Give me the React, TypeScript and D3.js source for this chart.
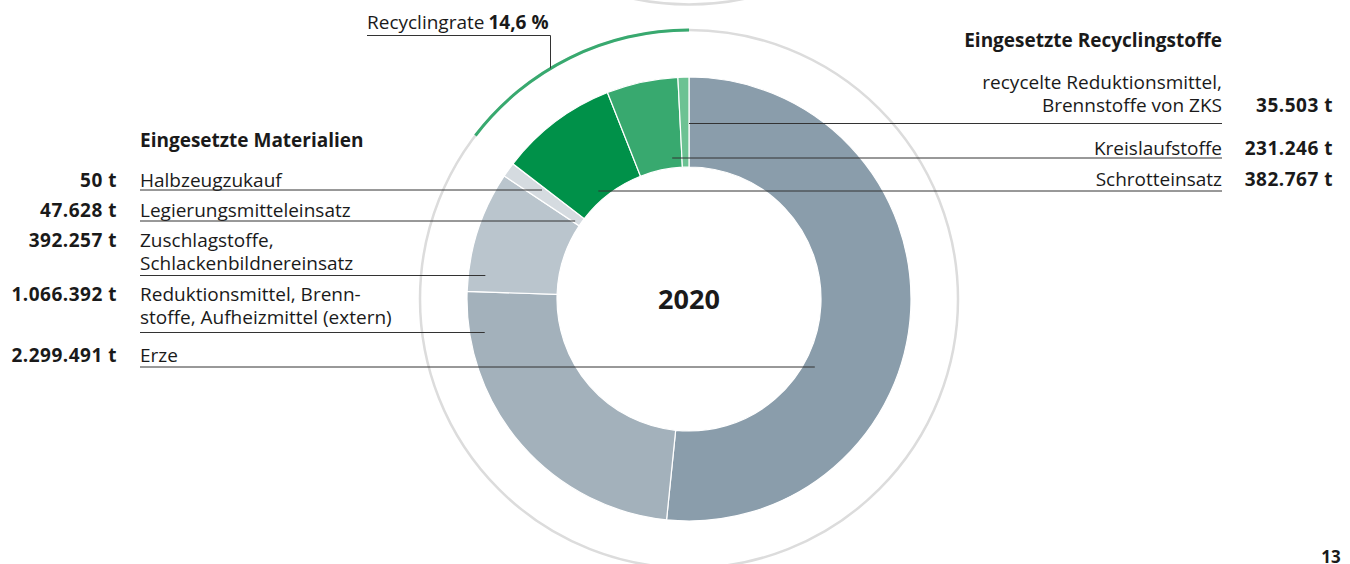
import React, { useEffect, useRef } from 'react';
import * as d3 from 'd3';

// slice order clockwise from 12 o'clock
const sliceNames = [
  'Erze',
  'Reduktionsmittel',
  'Zuschlagstoffe',
  'Legierungsmitteleinsatz',
  'Halbzeugzukauf',
  'Schrotteinsatz',
  'Kreislaufstoffe',
  'recycelte Reduktionsmittel',
];
const sliceValues = [2299491, 1066392, 392257, 47628, 50, 382767, 231246, 35503];
const sliceColors = ['#8a9dab', '#a3b1bb', '#bac5cd', '#d5dbe0', '#d5dbe0', '#009149', '#38a96f', '#6cc293'];

const leftValues = ['50 t', '47.628 t', '392.257 t', '1.066.392 t', '2.299.491 t'];
const leftLabels = [
  ['Halbzeugzukauf'],
  ['Legierungsmitteleinsatz'],
  ['Zuschlagstoffe,', 'Schlackenbildnereinsatz'],
  ['Reduktionsmittel, Brenn-', 'stoffe, Aufheizmittel (extern)'],
  ['Erze'],
];
const rightValues = ['35.503 t', '231.246 t', '382.767 t'];
const rightLabels = [
  ['recycelte Reduktionsmittel,', 'Brennstoffe von ZKS'],
  ['Kreislaufstoffe'],
  ['Schrotteinsatz'],
];
const recyclingRate = 14.6;
const yearLabel = '2020';

const W = 1350;
const H = 564;
const cx = 689;
const cy = 299;
const rOuter = 222;
const rInner = 132;
const rRing = 269;
const FONT = '"Open Sans", sans-serif';
const INK = '#1a1a1a';
const LH = 22.5;

// layout for the label rows: baseline of first line, underline y, leader end radius, side
const leftRows = [
  { y: 187, line: 190, r: 183, side: -1 },
  { y: 217, line: 221, r: 138, side: -1 },
  { y: 247, line: 275.5, r: 205, side: -1 },
  { y: 301, line: 332.5, r: 207, side: -1 },
  { y: 362, line: 367, r: 143, side: 1 },
];
const rightRows = [
  { y: 89, line: 123.5, r: 175, side: -1 },
  { y: 155, line: 158, r: 142, side: -1 },
  { y: 186, line: 191, r: 141, side: -1 },
];

const App = () => {
  const svgRef = useRef<SVGSVGElement>(null);

  useEffect(() => {
    const svg = d3.select(svgRef.current);
    svg.selectAll('*').remove();

    // faint ring of the previous chart above
    svg.append('circle')
      .attr('cx', cx).attr('cy', 4.5 - rRing).attr('r', rRing)
      .attr('fill', 'none').attr('stroke', '#dcdcdc').attr('stroke-width', 2.5);

    // outer ring
    svg.append('circle')
      .attr('cx', cx).attr('cy', cy).attr('r', rRing)
      .attr('fill', 'none').attr('stroke', '#dcdcdc').attr('stroke-width', 2.5);

    // recycling rate arc, counter-clockwise from top
    const rateScale = d3.scaleLinear().domain([0, 100]).range([0, 2 * Math.PI]);
    const rateArc = d3.arc()
      .innerRadius(rRing - 1.5).outerRadius(rRing + 1.5)
      .startAngle(-rateScale(recyclingRate)).endAngle(0);
    svg.append('path')
      .attr('transform', `translate(${cx},${cy})`)
      .attr('d', rateArc({} as any) as string)
      .attr('fill', '#38a96f');

    // donut
    const pie = d3.pie<number>().sort(null).value(d => d);
    const arcs = pie(sliceValues);
    const arcGen = d3.arc<d3.PieArcDatum<number>>().innerRadius(rInner).outerRadius(rOuter);
    svg.append('g')
      .attr('transform', `translate(${cx},${cy})`)
      .selectAll('path')
      .data(arcs)
      .enter()
      .append('path')
      .attr('d', d => arcGen(d) as string)
      .attr('fill', (d, i) => sliceColors[i])
      .attr('stroke', '#fff')
      .attr('stroke-width', 1.2);

    // center year
    svg.append('text')
      .attr('x', cx).attr('y', cy + 10)
      .attr('text-anchor', 'middle')
      .style('font-family', FONT).style('font-weight', 700).style('font-size', '27px')
      .attr('fill', INK)
      .text(yearLabel);

    const leaderX = (row: { line: number; r: number; side: number }) => {
      const dy = row.line - cy;
      return cx + row.side * Math.sqrt(Math.max(0, row.r * row.r - dy * dy));
    };

    const label = (x: number, y: number, t: string, anchor = 'start') =>
      svg.append('text')
        .attr('x', x).attr('y', y)
        .attr('text-anchor', anchor)
        .style('font-family', FONT).style('font-size', '19px')
        .attr('fill', INK)
        .text(t);
    const bold = (x: number, y: number, t: string, anchor = 'start') =>
      svg.append('text')
        .attr('x', x).attr('y', y)
        .attr('text-anchor', anchor)
        .style('font-family', FONT).style('font-weight', 700).style('font-size', '19px')
        .style('letter-spacing', '0.5px')
        .attr('fill', INK)
        .text(t);

    // left block
    bold(140, 147, 'Eingesetzte Materialien').style('letter-spacing', '0px');

    leftRows.forEach((row, i) => {
      bold(117, row.y, leftValues[i], 'end');
      leftLabels[i].forEach((t, j) => label(140, row.y + j * LH, t));
      svg.append('line')
        .attr('x1', 140).attr('x2', leaderX(row))
        .attr('y1', row.line).attr('y2', row.line)
        .attr('stroke', '#333').attr('stroke-width', 1);
    });

    // right block
    bold(1222, 47, 'Eingesetzte Recyclingstoffe', 'end').style('letter-spacing', '0px');

    rightRows.forEach((row, i) => {
      const lines = rightLabels[i];
      lines.forEach((t, j) => label(1222, row.y + j * LH, t, 'end'));
      bold(1333, row.y + (lines.length - 1) * LH, rightValues[i], 'end');
      svg.append('line')
        .attr('x1', leaderX(row)).attr('x2', 1222)
        .attr('y1', row.line).attr('y2', row.line)
        .attr('stroke', '#333').attr('stroke-width', 1);
    });

    // recycling rate label
    const rateX = 550.5;
    const rateY = cy - Math.sqrt(rRing * rRing - (rateX - cx) * (rateX - cx));
    const rl = svg.append('text')
      .attr('x', 367).attr('y', 29)
      .style('font-family', FONT).style('font-size', '19px')
      .attr('fill', INK);
    rl.append('tspan').text('Recyclingrate');
    rl.append('tspan').attr('dx', 4).style('font-weight', 700)
      .text(`${String(recyclingRate).replace('.', ',')} %`);
    svg.append('path')
      .attr('d', `M367,35.5H${rateX}V${rateY}`)
      .attr('fill', 'none').attr('stroke', '#333').attr('stroke-width', 1);

    // page number
    svg.append('text')
      .attr('x', 1331).attr('y', 563)
      .attr('text-anchor', 'middle')
      .style('font-family', FONT).style('font-weight', 700).style('font-size', '17px')
      .attr('fill', INK)
      .text('13');
  }, []);

  return (
    <div style={{ position: 'absolute', left: 0, top: 0, width: W, height: H, background: '#fff', overflow: 'hidden' }}>
      <svg ref={svgRef} width={W} height={H} style={{ display: 'block' }} />
    </div>
  );
};

export default App;
